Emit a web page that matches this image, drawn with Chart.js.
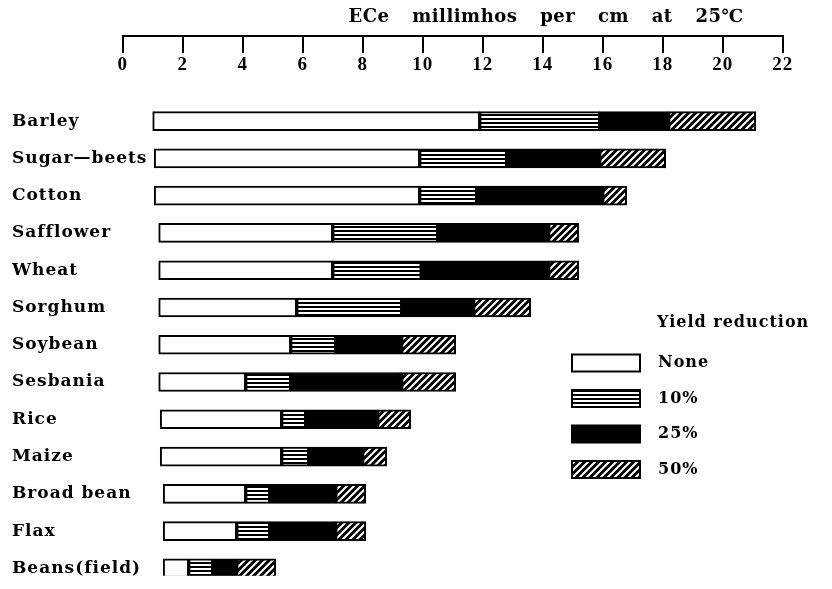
<!DOCTYPE html>
<html>
<head>
<meta charset="utf-8">
<script src="https://cdn.jsdelivr.net/npm/chart.js@4.4.0/dist/chart.umd.min.js"></script>
<style>
  html, body { margin: 0; padding: 0; background: #fff; }
</style>
</head>
<body>
<canvas id="salinidade" width="832" height="589"></canvas>
<script>
// culturas (de cima para baixo)
var crops = ['Barley', 'Sugar\u2014beets', 'Cotton', 'Safflower', 'Wheat', 'Sorghum', 'Soybean',
  'Sesbania', 'Rice', 'Maize', 'Broad bean', 'Flax', 'Beans(field)'];

// ECe (mmhos/cm a 25C) onde cada faixa termina
var barStart = [1.0, 1.05, 1.05, 1.2, 1.2, 1.2, 1.2, 1.2, 1.25, 1.25, 1.35, 1.35, 1.35];
var noneEnd = [11.9, 9.9, 9.9, 7.0, 7.0, 5.8, 5.6, 4.1, 5.3, 5.3, 4.1, 3.8, 2.2];
var red10End = [15.9, 12.8, 11.8, 10.5, 9.95, 9.3, 7.1, 5.6, 6.1, 6.2, 4.9, 4.9, 3.0];
var red25End = [18.2, 15.9, 16.0, 14.2, 14.2, 11.7, 9.3, 9.3, 8.5, 8.0, 7.1, 7.1, 3.8];
var red50End = [21.1, 18.1, 16.8, 15.2, 15.2, 13.6, 11.1, 11.1, 9.6, 8.8, 8.1, 8.1, 5.1];

var legendLabels = ['None', '10%', '25%', '50%'];
var axisTitle = 'ECe millimhos per cm at 25\u2103';
var legendTitle = 'Yield reduction';

var canvas = document.getElementById('salinidade');
var ctx = canvas.getContext('2d');

// padrao de linhas horizontais (10%)
function patternLines() {
  var c = document.createElement('canvas');
  c.width = 6; c.height = 4;
  var g = c.getContext('2d');
  g.fillStyle = '#000'; g.fillRect(0, 0, 6, 4);
  g.fillStyle = '#fff'; g.fillRect(0, 0, 6, 2);
  return ctx.createPattern(c, 'repeat');
}

// padrao hachurado (50%)
function patternHatch() {
  var c = document.createElement('canvas');
  c.width = 7; c.height = 7;
  var g = c.getContext('2d');
  g.fillStyle = '#000'; g.fillRect(0, 0, 7, 7);
  g.strokeStyle = '#fff'; g.lineWidth = 2;
  g.beginPath();
  g.moveTo(-1, 8); g.lineTo(8, -1);
  g.moveTo(-4.5, 4.5); g.lineTo(4.5, -4.5);
  g.moveTo(2.5, 11.5); g.lineTo(11.5, 2.5);
  g.stroke();
  return ctx.createPattern(c, 'repeat');
}

function faixa(ini, fim) {
  var out = [];
  for (var i = 0; i < crops.length; i++) {
    out.push({ y: i, x: [ini[i], fim[i]] });
  }
  return out;
}

var fills = ['#fff', patternLines(), '#000', patternHatch()];
var starts = [barStart, noneEnd, red10End, red25End];
var ends = [noneEnd, red10End, red25End, red50End];

var datasets = [];
for (var k = 0; k < 4; k++) {
  datasets.push({
    label: legendLabels[k],
    data: faixa(starts[k], ends[k]),
    backgroundColor: fills[k],
    borderColor: '#000',
    borderWidth: 2,
    borderSkipped: false,
    barThickness: 19,
    grouped: false
  });
}

function unclip(scale) {
  scale._computeLabelArea = function () { return undefined; };
}

var extras = {
  id: 'extras',
  beforeDraw: function (chart) {
    chart.ctx.letterSpacing = '1px';
  },
  afterDraw: function (chart) {
    var c = chart.ctx;
    c.save();
    c.fillStyle = '#000';
    c.textBaseline = 'middle';
    // titulo do eixo
    c.font = 'bold 18px "DejaVu Serif"';
    c.letterSpacing = '0.5px';
    c.wordSpacing = '16px';
    c.textAlign = 'center';
    c.fillText(axisTitle, 546, 17);
    c.wordSpacing = '0px';
    // legenda
    c.letterSpacing = '1px';
    c.textAlign = 'left';
    c.font = 'bold 16px "DejaVu Serif"';
    c.fillText(legendTitle, 657, 323);
    chart.data.datasets.forEach(function (ds, i) {
      var y = 363 + 35.5 * i;
      c.fillStyle = ds.backgroundColor;
      c.fillRect(572, y - 8.5, 68, 17);
      c.strokeStyle = '#000';
      c.lineWidth = 2;
      c.strokeRect(572, y - 8.5, 68, 17);
      c.fillStyle = '#000';
      c.fillText(ds.label, 658, y);
    });
    c.restore();
  }
};

Chart.defaults.font.family = '"DejaVu Serif"';
Chart.defaults.color = '#000';

var grafico = new Chart(ctx, {
  type: 'bar',
  data: { datasets: datasets },
  options: {
    indexAxis: 'y',
    responsive: false,
    animation: false,
    layout: { padding: { left: 12, right: 49.3, top: 0, bottom: 1 } },
    scales: {
      x: {
        type: 'linear',
        position: 'top',
        min: 0,
        max: 22,
        ticks: {
          stepSize: 2,
          maxRotation: 0,
          padding: -23,
          font: { family: '"Liberation Serif"', size: 19, weight: 'bold' }
        },
        grid: { drawOnChartArea: false, drawTicks: true, tickLength: -17, lineWidth: 2, color: '#000' },
        border: { display: true, color: '#000', width: 2 },
        afterFit: function (s) { s.height = 36; unclip(s); }
      },
      y: {
        type: 'linear',
        reverse: true,
        offset: false,
        min: -2.285,
        max: 12.2,
        afterBuildTicks: function (s) {
          s.ticks = crops.map(function (c, i) { return { value: i }; });
        },
        ticks: {
          autoSkip: false,
          crossAlign: 'far',
          font: { size: 17, weight: 'bold' },
          callback: function (v) { return crops[v] || ''; }
        },
        grid: { display: false, offset: false },
        border: { display: false },
        afterFit: function (s) { s.width = 110.7; unclip(s); }
      }
    },
    plugins: {
      legend: { display: false },
      tooltip: { enabled: false }
    }
  },
  plugins: [extras]
});
</script>
</body>
</html>
